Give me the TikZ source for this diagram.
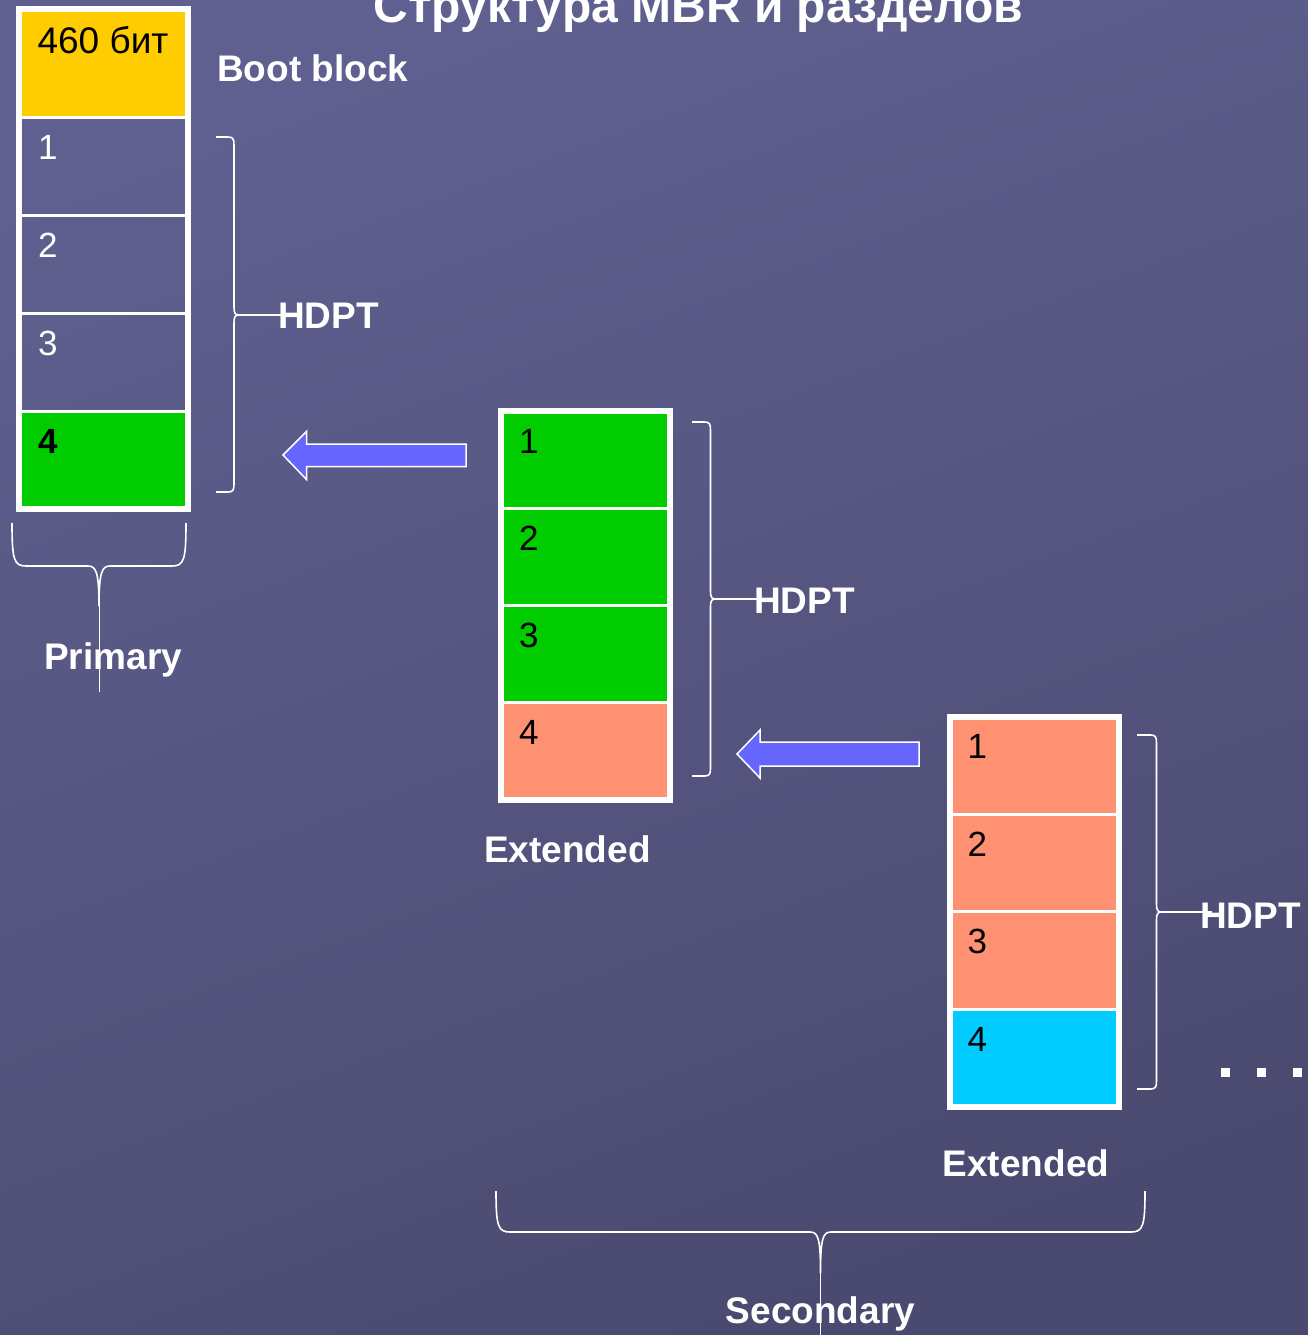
\documentclass[tikz,border=0pt]{standalone}
\usepackage{fontspec}
\setmainfont{Liberation Sans}
\usetikzlibrary{calc}
\definecolor{bgtop}{HTML}{606090}
\definecolor{bgbot}{HTML}{4A4A70}
\definecolor{cyel}{HTML}{FFCC00}
\definecolor{cgrn}{HTML}{00CC00}
\definecolor{csal}{HTML}{FF9173}
\definecolor{ccyn}{HTML}{00CCFF}
\definecolor{carr}{HTML}{6666FF}
\begin{document}
\begin{tikzpicture}[x=1pt,y=-1pt,
  cell/.style={draw=white,line width=3pt,minimum width=169pt,inner sep=0pt,outer sep=0pt,anchor=north west},
  frame/.style={draw=white,line width=6pt},
  num/.style={font=\fontsize{35}{40}\selectfont,text=black,anchor=base west,inner sep=0pt},
  lbl/.style={font=\fontsize{37}{44}\selectfont\bfseries,text=white,inner sep=0pt},
  brace/.style={draw=white,line width=1.6pt},
  thin/.style={draw=white,line width=0.9pt},
  blockarrow/.style={fill=carr,draw=white,line width=1.5pt,line join=miter}
]
\useasboundingbox (0,0) rectangle (1308,1335);
\shade[top color=bgtop,bottom color=bgbot,shading angle=20] (0,0) rectangle (1308,1335);

% Title
\node[lbl,font=\fontsize{48}{56}\selectfont\bfseries,anchor=base] (title) at (698.5,23) {Структура MBR и разделов};

% Column 1 (Primary)
\node[cell,fill=cyel,minimum height=108.5pt] (pa) at (19,9) {};
\node[cell,minimum height=97.9pt] (p1) at (pa.south west) {};
\node[cell,minimum height=97.9pt] (p2) at (p1.south west) {};
\node[cell,minimum height=97.9pt] (p3) at (p2.south west) {};
\node[cell,fill=cgrn,minimum height=97.9pt] (p4) at (p3.south west) {};
\draw[frame] (pa.north west) rectangle (p4.south east);
\node[font=\fontsize{37}{44}\selectfont,text=black,anchor=base,inner sep=0pt] (bits) at (103,54) {460 бит};
\node[num,text=white] (p1t) at ($(p1.north west)+(19,42)$) {1};
\node[num,text=white] (p2t) at ($(p2.north west)+(19,42)$) {2};
\node[num,text=white] (p3t) at ($(p3.north west)+(19,42)$) {3};
\node[num,font=\fontsize{35}{40}\selectfont\bfseries] (p4t) at ($(p4.north west)+(19,42)$) {4};

% Column 2 (Extended)
\node[cell,fill=cgrn,minimum height=97.3pt] (e1) at (501,411) {};
\node[cell,fill=cgrn,minimum height=97.3pt] (e2) at (e1.south west) {};
\node[cell,fill=cgrn,minimum height=97.3pt] (e3) at (e2.south west) {};
\node[cell,fill=csal,minimum height=97.3pt] (e4) at (e3.south west) {};
\draw[frame] (e1.north west) rectangle (e4.south east);
\node[num] (e1t) at ($(e1.north west)+(18,42)$) {1};
\node[num] (e2t) at ($(e2.north west)+(18,42)$) {2};
\node[num] (e3t) at ($(e3.north west)+(18,42)$) {3};
\node[num] (e4t) at ($(e4.north west)+(18,42)$) {4};

% Column 3 (Extended)
\node[cell,fill=csal,minimum height=97.6pt] (s1) at (949.5,716.5) {};
\node[cell,fill=csal,minimum height=97.6pt] (s2) at (s1.south west) {};
\node[cell,fill=csal,minimum height=97.6pt] (s3) at (s2.south west) {};
\node[cell,fill=ccyn,minimum height=97.6pt] (s4) at (s3.south west) {};
\draw[frame] (s1.north west) rectangle (s4.south east);
\node[num] (s1t) at ($(s1.north west)+(18,42)$) {1};
\node[num] (s2t) at ($(s2.north west)+(18,42)$) {2};
\node[num] (s3t) at ($(s3.north west)+(18,42)$) {3};
\node[num] (s4t) at ($(s4.north west)+(18,42)$) {4};

% Right braces (HDPT)
\draw[brace] (216,137) -- (228,137) .. controls (233,137) and (234,139) .. (234,145) -- (234,307) .. controls (234,313) and (235,315) .. (239,315) .. controls (235,315) and (234,317) .. (234,323) -- (234,484) .. controls (234,490) and (233,492) .. (228,492) -- (216,492);
\coordinate (b1tip) at (239,315);
\coordinate (b1end) at (290,315);
\draw[brace] (692,422) -- (704.5,422) .. controls (709.5,422) and (710.5,424) .. (710.5,430) -- (710.5,591) .. controls (710.5,597) and (711.5,599) .. (715.5,599) .. controls (711.5,599) and (710.5,601) .. (710.5,607) -- (710.5,768) .. controls (710.5,774) and (709.5,776) .. (704.5,776) -- (692,776);
\coordinate (b2tip) at (715.5,599);
\coordinate (b2end) at (766,599);
\draw[brace] (1137,735) -- (1150.5,735) .. controls (1155.5,735) and (1156.5,737) .. (1156.5,743) -- (1156.5,904) .. controls (1156.5,910) and (1157.5,912) .. (1161.5,912) .. controls (1157.5,912) and (1156.5,914) .. (1156.5,920) -- (1156.5,1081) .. controls (1156.5,1087) and (1155.5,1089) .. (1150.5,1089) -- (1137,1089);
\coordinate (b3tip) at (1161.5,912);
\coordinate (b3end) at (1212,912);
\draw[brace] (b1tip) -- (b1end);
\draw[brace] (b2tip) -- (b2end);
\draw[brace] (b3tip) -- (b3end);
\node[lbl,anchor=base west] (h1) at (278,328) {HDPT};
\node[lbl,anchor=base west] (h2) at (754,613) {HDPT};
\node[lbl,anchor=base west] (h3) at (1200,928) {HDPT};

% Labels
\node[lbl,anchor=base west] (boot) at (217,82) {Boot block};
\node[lbl,anchor=base] (ext1) at (567.5,862) {Extended};
\node[lbl,anchor=base] (ext2) at (1026,1176) {Extended};

% Bottom braces
\draw[brace] (12,523) .. controls (12,560) and (14,566) .. (26,566) -- (88,566) .. controls (96,566) and (99,572) .. (99,606) .. controls (99,572) and (102,566) .. (110,566) -- (172,566) .. controls (184,566) and (186,560) .. (186,523);
\coordinate (ptip) at (99,606);
\coordinate (pend) at (99,692);
\draw[thin] (ptip) -- (pend);
\node[lbl,anchor=base west] (prim) at (44,669) {Primary};

\draw[brace] (496,1191) .. controls (496,1226) and (498,1232) .. (510,1232) -- (810,1232) .. controls (818,1232) and (820.5,1238) .. (820.5,1273) .. controls (820.5,1238) and (823,1232) .. (831,1232) -- (1131,1232) .. controls (1143,1232) and (1145,1226) .. (1145,1191);
\coordinate (stip) at (820.5,1273);
\coordinate (send) at (820.5,1335);
\draw[thin] (stip) -- (send);
\node[lbl,anchor=base] (sec) at (820.5,1323) {Secondary};

% Block arrows
\draw[blockarrow] (283,455) -- (306.5,431.5) -- (306.5,444) -- (466,444) -- (466,466.5) -- (306.5,466.5) -- (306.5,479.5) -- cycle;
\draw[blockarrow] (737,754) -- (760,730) -- (760,742) -- (919,742) -- (919,766) -- (760,766) -- (760,778) -- cycle;

% Continuation dots
\foreach \xx in {1225.5,1261.5,1297}
  \fill[white] (\xx-4.5,1068) rectangle (\xx+4.5,1077);
\end{tikzpicture}
\end{document}
